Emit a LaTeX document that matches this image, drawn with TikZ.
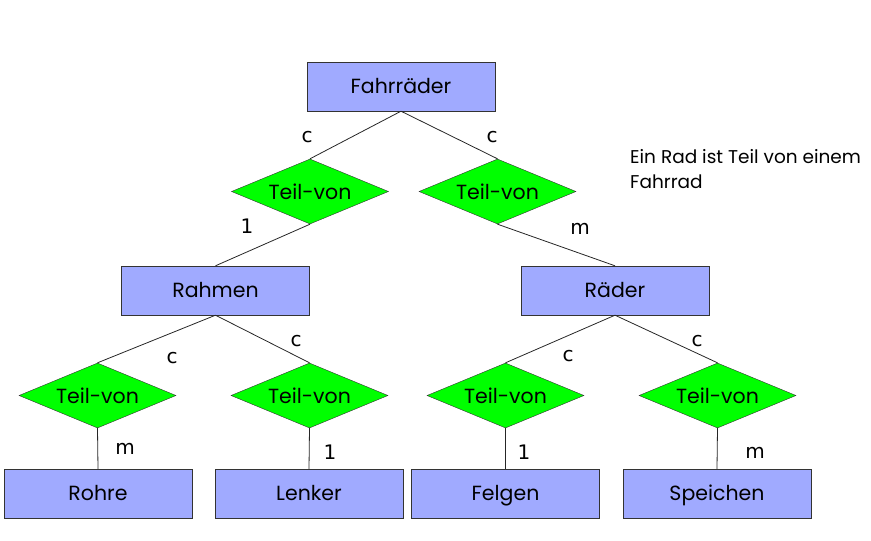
\documentclass[tikz,border=0pt]{standalone}
\usepackage{fontspec}
\setmainfont{Poppins}
\newfontfamily\labfont{DejaVu Sans}
\usetikzlibrary{shapes.geometric}
\definecolor{entblue}{RGB}{160,170,255}
\definecolor{relgreen}{RGB}{0,255,0}
\begin{document}
\begin{tikzpicture}[x=1pt,y=-1pt,
  entity/.style={draw=black!80,fill=entblue,minimum width=188pt,minimum height=49pt,inner sep=0pt,text height=16pt,text depth=2pt,font=\fontsize{20.5}{24}\selectfont},
  rel/.style={draw=black!80,fill=relgreen,diamond,aspect=2.4,minimum width=157pt,minimum height=65pt,inner sep=0pt,font=\fontsize{20.5}{24}\selectfont},
  card/.style={font=\labfont\fontsize{20}{24}\selectfont,inner sep=0pt},
  conn/.style={draw=black!85,line width=0.8pt}]
\useasboundingbox (0,0) rectangle (871,541);
\node[entity] (fahr) at (401,86.5) {Fahrräder};
\node[entity] (rahmen) at (215.5,290.5) {Rahmen};
\node[entity] (raeder) at (615,290.5) {Räder};
\node[entity] (rohre) at (98,493.5) {Rohre};
\node[entity] (lenker) at (309,493.5) {Lenker};
\node[entity] (felgen) at (505.5,493.5) {Felgen};
\node[entity] (speichen) at (717,493.5) {Speichen};
\node[rel] (r1) at (310,191.5) {Teil-von};
\node[rel] (r2) at (497.5,191.5) {Teil-von};
\node[rel] (r3) at (97.5,395.5) {Teil-von};
\node[rel] (r4) at (309.5,395.5) {Teil-von};
\node[rel] (r5) at (505.5,395.5) {Teil-von};
\node[rel] (r6) at (717.5,395.5) {Teil-von};
\draw[conn] (fahr.south) -- (r1.north);
\draw[conn] (fahr.south) -- (r2.north);
\draw[conn] (r1.south) -- (rahmen.north);
\draw[conn] (r2.south) -- (raeder.north);
\draw[conn] (rahmen.south) -- (r3.north);
\draw[conn] (rahmen.south) -- (r4.north);
\draw[conn] (raeder.south) -- (r5.north);
\draw[conn] (raeder.south) -- (r6.north);
\draw[conn] (r3.south) -- (rohre.north);
\draw[conn] (r4.south) -- (lenker.north);
\draw[conn] (r5.south) -- (felgen.north);
\draw[conn] (r6.south) -- (speichen.north);
\node[card] (c1) at (307,137) {c};
\node[card] (c2) at (492,137) {c};
\node[card] (n1) at (247,226) {1};
\node[card] (m1) at (580,229) {m};
\node[card] (c3) at (172,358) {c};
\node[card] (c4) at (296,341) {c};
\node[card] (c5) at (568,356) {c};
\node[card] (c6) at (697,341) {c};
\node[card] (m2) at (125,449) {m};
\node[card] (n2) at (330,452) {1};
\node[card] (n3) at (524,452) {1};
\node[card] (m3) at (755,453) {m};
\node[anchor=north west,align=left,inner sep=0pt,font=\fontsize{18.5}{25}\selectfont] (note) at (630,149) {Ein Rad ist Teil von einem\\Fahrrad};
\end{tikzpicture}
\end{document}
